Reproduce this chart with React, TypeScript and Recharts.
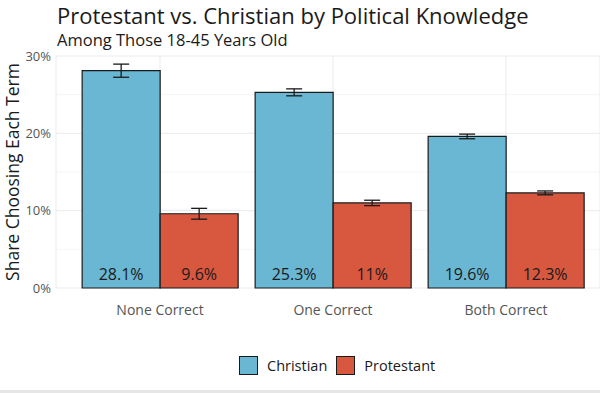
import { BarChart, Bar, XAxis, YAxis, CartesianGrid, ErrorBar, LabelList } from 'recharts';

// Share choosing each term, by number of political knowledge questions answered correctly
const categories = ['None Correct', 'One Correct', 'Both Correct'];
const christian = [28.1, 25.3, 19.6];
const protestant = [9.6, 11, 12.3];
const christianErr = [0.85, 0.45, 0.3];
const protestantErr = [0.7, 0.35, 0.25];
const yTicks = [0, 10, 20, 30];
const minorTicks = [5, 15, 25];

const data = categories.map((c, i) => ({
  category: c,
  christian: christian[i],
  protestant: protestant[i],
  christianErr: christianErr[i],
  protestantErr: protestantErr[i],
}));

const FONT = '"Open Sans", sans-serif';
const BLUE = '#69b7d3';
const RED = '#d8573f';

const BottomLabel = (props: any) => {
  const { x, y, width, height, value } = props;
  return (
    <text
      x={x + width / 2}
      y={y + height - 8}
      textAnchor="middle"
      fill="#1a1a1a"
      fontSize={16}
      fontFamily={FONT}
    >
      {value}%
    </text>
  );
};

export default function App() {
  return (
    <div style={{ position: 'absolute', left: 0, top: 0, width: 600, height: 393, background: '#fff', fontFamily: FONT }}>
      <div style={{ position: 'absolute', left: 57, top: 3, fontSize: 22, lineHeight: '24px', color: '#1a1a1a', whiteSpace: 'nowrap' }}>
        Protestant vs. Christian by Political Knowledge
      </div>
      <div style={{ position: 'absolute', left: 57, top: 31, fontSize: 16.5, lineHeight: '18px', color: '#1a1a1a', whiteSpace: 'nowrap' }}>
        Among Those 18-45 Years Old
      </div>
      <BarChart
        width={600}
        height={393}
        data={data}
        margin={{ top: 56, right: 0, left: 0, bottom: 75 }}
        barGap={0}
        barCategoryGap="5%"
        style={{ position: 'absolute', left: 0, top: 0 }}
      >
        <CartesianGrid stroke="#f3f3f3" strokeWidth={0.8} vertical={false} horizontalValues={minorTicks} />
        <CartesianGrid stroke="#ebebeb" strokeWidth={1} />
        <XAxis
          dataKey="category"
          height={30}
          padding={{ left: 17.5, right: 7.5 }}
          axisLine={false}
          tickLine={false}
          tickMargin={11}
          tick={{ fill: '#555', fontSize: 14, fontFamily: FONT }}
        />
        <YAxis
          width={56}
          domain={[0, 30]}
          ticks={yTicks}
          axisLine={false}
          tickLine={false}
          tickMargin={-1}
          tickFormatter={(v) => `${v}%`}
          tick={{ fill: '#555', fontSize: 13, fontFamily: FONT }}
          label={{
            value: 'Share Choosing Each Term',
            angle: -90,
            position: 'insideLeft',
            offset: 13,
            style: { textAnchor: 'middle', fill: '#1a1a1a', fontSize: 17.5, fontFamily: FONT },
          }}
        />
        <Bar dataKey="christian" name="Christian" fill={BLUE} stroke="#1a1a1a" strokeWidth={1.2} isAnimationActive={false}>
          <ErrorBar dataKey="christianErr" width={8} stroke="#1a1a1a" strokeWidth={1.3} />
          <LabelList dataKey="christian" content={BottomLabel} />
        </Bar>
        <Bar dataKey="protestant" name="Protestant" fill={RED} stroke="#1a1a1a" strokeWidth={1.2} isAnimationActive={false}>
          <ErrorBar dataKey="protestantErr" width={8} stroke="#1a1a1a" strokeWidth={1.3} />
          <LabelList dataKey="protestant" content={BottomLabel} />
        </Bar>
      </BarChart>
      <div style={{ position: 'absolute', left: 239, top: 356, display: 'flex', alignItems: 'center', fontSize: 14.5, color: '#1a1a1a' }}>
        <span style={{ width: 17, height: 17, background: BLUE, border: '1.2px solid #1a1a1a', display: 'inline-block' }} />
        <span style={{ marginLeft: 9, marginRight: 9 }}>Christian</span>
        <span style={{ width: 17, height: 17, background: RED, border: '1.2px solid #1a1a1a', display: 'inline-block' }} />
        <span style={{ marginLeft: 9 }}>Protestant</span>
      </div>
      <div style={{ position: 'absolute', left: 0, top: 390, width: 600, height: 3, background: '#e6e6e6' }} />
    </div>
  );
}
